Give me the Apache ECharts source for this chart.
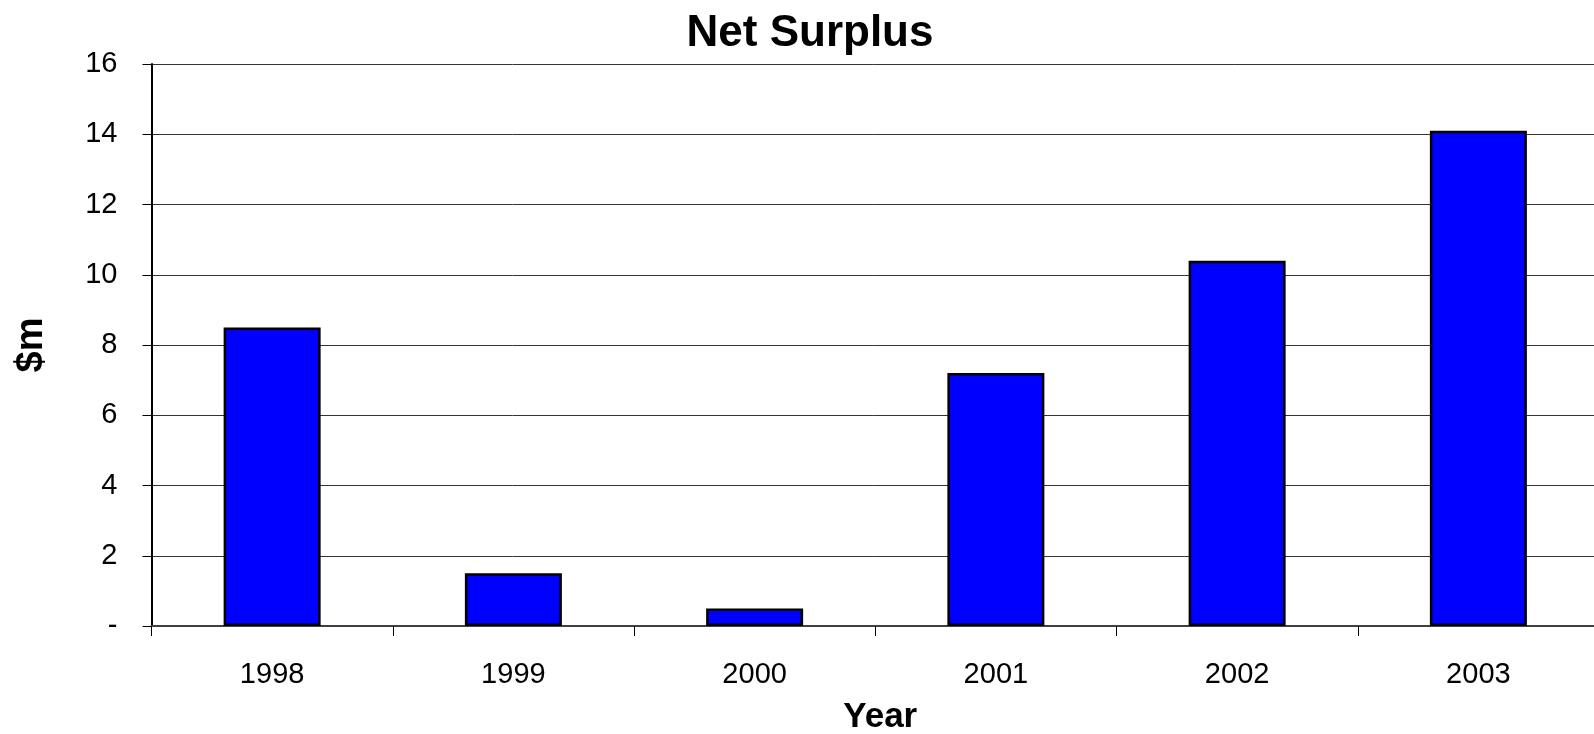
<!DOCTYPE html>
<html>
<head>
<meta charset="utf-8">
<script src="https://cdn.jsdelivr.net/npm/echarts@6/dist/echarts.min.js"></script>
<style>
html,body{margin:0;padding:0;background:#fff;}
#chart{width:1594px;height:734px;}
</style>
</head>
<body>
<div id="chart"></div>
<script>
const categories = ['1998', '1999', '2000', '2001', '2002', '2003'];
const surplusValues = [8.5, 1.5, 0.5, 7.2, 10.4, 14.1];
const yTickLabels = ['-', '2', '4', '6', '8', '10', '12', '14', '16'];

const FONT = '"Liberation Sans Narrow", "Arial Narrow", "Liberation Sans", Arial, sans-serif';

const chart = echarts.init(document.getElementById('chart'), null, {renderer: 'canvas'});
chart.setOption({
  animation: false,
  backgroundColor: '#ffffff',
  title: {
    text: 'Net Surplus',
    left: 805,
    top: 7,
    textAlign: 'center',
    textStyle: {fontFamily: FONT, fontWeight: 'bold', fontSize: 44, color: '#000'}
  },
  grid: {left: 151.5, right: -5, top: 64, bottom: 108, containLabel: false, outerBoundsMode: 'none'},
  xAxis: {
    type: 'category',
    data: categories,
    name: 'Year',
    nameLocation: 'middle',
    nameGap: 74,
    nameTextStyle: {fontFamily: FONT, fontWeight: 'bold', fontSize: 35, color: '#000', padding: [0, 0, 0, 10]},
    axisLine: {show: true, lineStyle: {color: '#404040', width: 2}},
    axisTick: {show: true, alignWithLabel: false, length: 10, inside: false, lineStyle: {color: '#000', width: 1}},
    axisLabel: {fontFamily: FONT, fontSize: 29, color: '#000', margin: 34},
    splitLine: {show: false}
  },
  yAxis: {
    type: 'value',
    min: 0,
    max: 16,
    interval: 2,
    name: '$m',
    nameLocation: 'middle',
    nameGap: 101,
    nameRotate: 90,
    nameTextStyle: {fontFamily: FONT, fontWeight: 'bold', fontSize: 38, color: '#000'},
    axisLine: {show: true, lineStyle: {color: '#000', width: 2}},
    axisTick: {show: true, length: 9, inside: false, lineStyle: {color: '#000', width: 1}},
    axisLabel: {
      fontFamily: FONT, fontSize: 29, color: '#000', margin: 34,
      formatter: function (v) { return yTickLabels[Math.round(v / 2)]; }
    },
    splitLine: {show: true, lineStyle: {color: '#333', width: 1}}
  },
  series: [{
    type: 'bar',
    data: surplusValues,
    barWidth: 97,
    itemStyle: {color: '#0000FF', borderColor: '#000', borderWidth: 2.5}
  }]
});
</script>
</body>
</html>
